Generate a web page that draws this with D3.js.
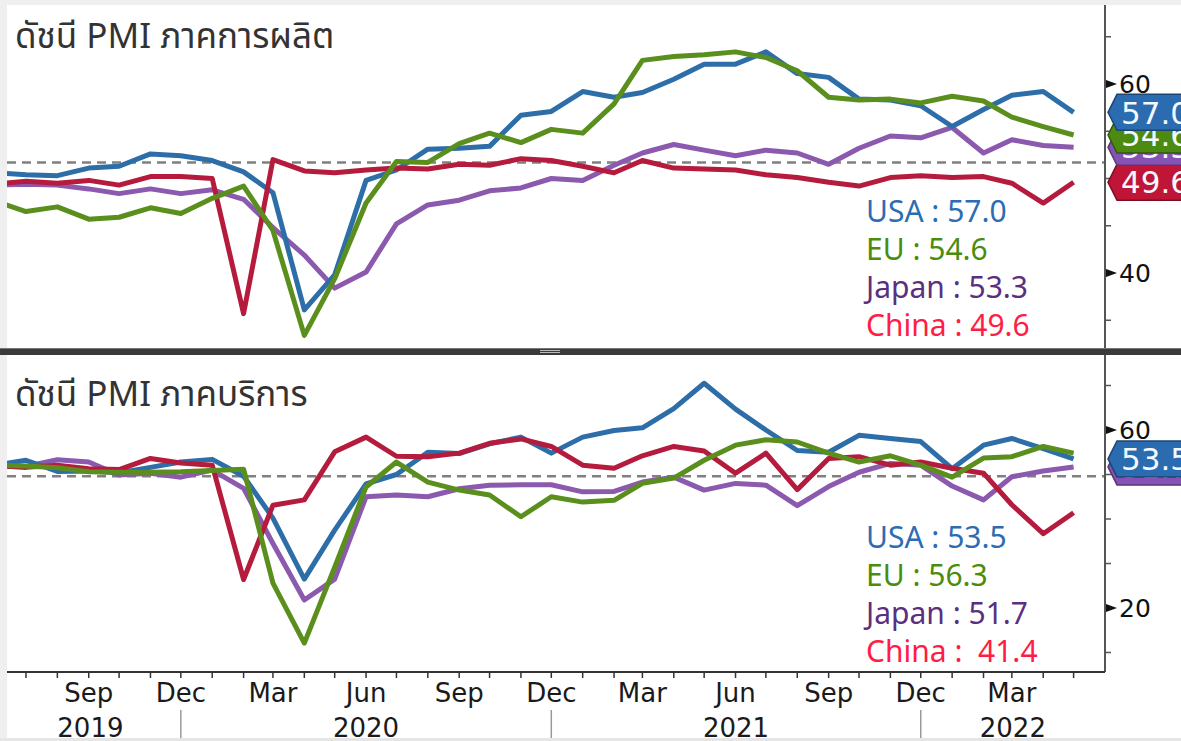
<!DOCTYPE html>
<html lang="th">
<head>
<meta charset="UTF-8">
<title>PMI</title>
<script src="https://d3js.org/d3.v7.min.js"></script>
<style>
    body { margin: 0; background: #efefef; }
    svg { display: block; }
</style>
</head>
<body>
<svg width="1181" height="741"></svg>
<script>

    // month-end readings, Jun 2019 .. May 2022
    var months = ["2019-06", "2019-07", "2019-08", "2019-09", "2019-10", "2019-11", "2019-12",
        "2020-01", "2020-02", "2020-03", "2020-04", "2020-05", "2020-06", "2020-07", "2020-08", "2020-09", "2020-10", "2020-11", "2020-12",
        "2021-01", "2021-02", "2021-03", "2021-04", "2021-05", "2021-06", "2021-07", "2021-08", "2021-09", "2021-10", "2021-11", "2021-12",
        "2022-01", "2022-02", "2022-03", "2022-04", "2022-05"];

    var countries = ["USA", "EU", "Japan", "China"];

    // manufacturing PMI
    var usaMfg = [50.6, 50.4, 50.3, 51.1, 51.3, 52.6, 52.4, 51.9, 50.7, 48.5, 36.1, 39.8, 49.8, 50.9, 53.1, 53.2, 53.4, 56.7, 57.1,
        59.2, 58.6, 59.1, 60.5, 62.1, 62.1, 63.4, 61.1, 60.7, 58.4, 58.3, 57.7, 55.5, 57.3, 58.8, 59.2, 57.0];
    var euMfg = [47.6, 46.5, 47.0, 45.7, 45.9, 46.9, 46.3, 47.9, 49.2, 44.5, 33.4, 39.4, 47.4, 51.8, 51.7, 53.7, 54.8, 53.8, 55.2,
        54.8, 57.9, 62.5, 62.9, 63.1, 63.4, 62.8, 61.4, 58.6, 58.3, 58.4, 58.0, 58.7, 58.2, 56.5, 55.5, 54.6];
    var japanMfg = [49.3, 49.4, 49.3, 48.9, 48.4, 48.9, 48.4, 48.8, 47.8, 44.8, 41.9, 38.4, 40.1, 45.2, 47.2, 47.7, 48.7, 49.0, 50.0,
        49.8, 51.4, 52.7, 53.6, 53.0, 52.4, 53.0, 52.7, 51.5, 53.2, 54.5, 54.3, 55.4, 52.7, 54.1, 53.5, 53.3];
    var chinaMfg = [49.4, 49.7, 49.5, 49.8, 49.3, 50.2, 50.2, 50.0, 35.7, 52.0, 50.8, 50.6, 50.9, 51.1, 51.0, 51.5, 51.4, 52.1, 51.9,
        51.3, 50.6, 51.9, 51.1, 51.0, 50.9, 50.4, 50.1, 49.6, 49.2, 50.1, 50.3, 50.1, 50.2, 49.5, 47.4, 49.6];

    // services PMI
    var usaSvc = [52.1, 53.2, 50.7, 50.8, 50.4, 51.6, 52.8, 53.4, 49.6, 40.2, 26.5, 37.5, 47.9, 50.0, 55.0, 54.7, 56.9, 58.4, 54.8,
        58.4, 59.9, 60.5, 64.8, 70.5, 64.7, 60.0, 55.4, 55.0, 58.8, 58.1, 57.4, 51.3, 56.6, 58.1, 55.8, 53.5];
    var euSvc = [52.1, 51.9, 51.5, 50.6, 50.5, 50.5, 50.6, 50.9, 51.2, 25.6, 12.1, 29.2, 47.2, 52.8, 48.3, 46.5, 45.4, 40.5, 45.0,
        43.8, 44.2, 48.0, 49.2, 53.2, 56.6, 57.8, 57.3, 54.8, 52.8, 54.2, 52.1, 49.4, 53.7, 54.0, 56.3, 54.8];
    var japanSvc = [51.9, 51.8, 53.3, 52.8, 49.9, 50.3, 49.4, 51.0, 46.9, 34.5, 21.8, 26.5, 45.0, 45.4, 45.0, 46.8, 47.6, 47.7, 47.7,
        46.1, 46.2, 48.3, 49.4, 46.5, 48.0, 47.6, 43.0, 47.3, 50.5, 52.5, 52.1, 47.4, 44.3, 49.5, 50.8, 51.7];
    var chinaSvc = [52.0, 51.6, 52.1, 51.3, 51.1, 53.6, 52.6, 52.1, 26.4, 43.1, 44.3, 55.1, 58.4, 54.1, 54.0, 54.8, 57.0, 58.0, 56.3,
        52.1, 51.4, 54.2, 56.3, 55.3, 50.3, 54.8, 46.6, 53.6, 54.0, 52.1, 52.8, 51.4, 50.3, 43.2, 36.7, 41.4];

    var legendTop = ["USA : 57.0", "EU : 54.6", "Japan : 53.3", "China : 49.6"];
    var legendBottom = ["USA : 53.5", "EU : 56.3", "Japan : 51.7", "China :  41.4"];

    var topTicks = [35, 40, 45, 50, 55, 60, 65];
    var topTickLabels = [40, 60];
    var bottomTicks = [10, 20, 30, 40, 50, 60, 70];
    var bottomTickLabels = [20, 60];
    var monthLabels = ["Mar", "Jun", "Sep", "Dec"];

    var lineColor = {USA: "#2d6ea8", EU: "#5b8f1d", Japan: "#8b59ad", China: "#b51b3d"};
    var textColor = {USA: "#2c6cb2", EU: "#4a8c0b", Japan: "#5b2f7d", China: "#ff1d45"};
    var tagColor = {USA: "#2b6bb0", EU: "#4c8a12", Japan: "#8653b4", China: "#bf1637"};

    var parse = d3.utcParse("%Y-%m");
    var dates = months.map(parse);

    var svg = d3.select("svg"),
        axisX = 1105,
        left = 7,
        font = "'Noto Sans Thai', 'Noto Sans', sans-serif",
        axisFont = "'DejaVu Sans', sans-serif";

    svg.append("rect").attr("x", left).attr("y", 5).attr("width", 1181 - left).attr("height", 733).attr("fill", "#fff");

    var x = d3.scaleUtc()
        .domain(d3.extent(dates))
        .range([-4.4, 1073.6]);

    var panels = [
        {
            title: "ดัชนี PMI ภาคการผลิต", titleY: 48, top: 5, bottom: 348,
            y: d3.scaleLinear().domain([40, 60]).range([273, 84]),
            series: {USA: usaMfg, EU: euMfg, Japan: japanMfg, China: chinaMfg},
            ref: 51.7, ticks: topTicks, tickLabels: topTickLabels,
            legend: legendTop, legendY: 222,
            tags: ["China", "Japan", "EU", "USA"]
        },
        {
            title: "ดัชนี PMI ภาคบริการ", titleY: 406, top: 355, bottom: 672,
            y: d3.scaleLinear().domain([20, 60]).range([608, 430]),
            series: {USA: usaSvc, EU: euSvc, Japan: japanSvc, China: chinaSvc},
            ref: 49.6, ticks: bottomTicks, tickLabels: bottomTickLabels,
            legend: legendBottom, legendY: 548,
            tags: ["Japan", "USA"]
        }
    ];

    var drawOrder = ["Japan", "USA", "China", "EU"];

    panels.forEach(function (p, i) {
        var g = svg.append("g");

        svg.append("clipPath").attr("id", "clip" + i)
            .append("rect")
            .attr("x", left).attr("y", p.top)
            .attr("width", axisX - left).attr("height", p.bottom - p.top);

        g.append("text")
            .attr("x", 15).attr("y", p.titleY)
            .attr("font-family", font).attr("font-size", 35)
            .attr("fill", "#333")
            .text(p.title);

        var plot = g.append("g").attr("clip-path", "url(#clip" + i + ")");

        plot.append("line")
            .attr("x1", left).attr("x2", axisX)
            .attr("y1", p.y(p.ref)).attr("y2", p.y(p.ref))
            .attr("stroke", "#808080").attr("stroke-width", 2.5)
            .attr("stroke-dasharray", "9,6");

        var line = d3.line()
            .x(function (d, j) { return x(dates[j]); })
            .y(function (d) { return p.y(d); });

        drawOrder.forEach(function (c) {
            plot.append("path")
                .datum(p.series[c])
                .attr("d", line)
                .attr("fill", "none")
                .attr("stroke", lineColor[c])
                .attr("stroke-width", 5)
                .attr("stroke-linejoin", "round");
        });

        // legend
        g.selectAll(".legend")
            .data(p.legend)
            .enter().append("text")
            .attr("x", 866)
            .attr("y", function (d, j) { return p.legendY + j * 38; })
            .attr("font-family", font).attr("font-size", 30)
            .attr("fill", function (d, j) { return textColor[countries[j]]; })
            .style("white-space", "pre")
            .text(function (d) { return d; });

        // right axis
        var axis = g.append("g").attr("transform", "translate(" + axisX + ",0)");
        axis.selectAll(".tick")
            .data(p.ticks)
            .enter().append("line")
            .attr("x1", 0).attr("x2", 6)
            .attr("y1", function (d) { return p.y(d); })
            .attr("y2", function (d) { return p.y(d); })
            .attr("stroke", "#555").attr("stroke-width", 1.5);
        axis.selectAll(".wedge")
            .data(p.tickLabels)
            .enter().append("path")
            .attr("d", function (d) {
                var yy = p.y(d);
                return "M1," + (yy - 4) + "L12," + yy + "L1," + (yy + 4) + "Z";
            })
            .attr("fill", "#111");
        axis.selectAll(".lab")
            .data(p.tickLabels)
            .enter().append("text")
            .attr("x", 14)
            .attr("y", function (d) { return p.y(d); })
            .attr("dy", "0.36em")
            .attr("font-family", axisFont).attr("font-size", 25)
            .attr("fill", "#111")
            .text(function (d) { return d; });

        // value tags on the axis
        p.tags.forEach(function (c) {
            var v = p.series[c][p.series[c].length - 1];
            var yy = p.y(v);
            var tg = axis.append("g");
            tg.append("path")
                .attr("d", "M3," + yy + "L12," + (yy - 18) + "L90," + (yy - 18) + "L90," + (yy + 18) + "L12," + (yy + 18) + "Z")
                .attr("fill", tagColor[c])
                .attr("stroke", d3.color(tagColor[c]).darker(1.2))
                .attr("stroke-width", 1.5);
            tg.append("text")
                .attr("x", 16).attr("y", yy).attr("dy", "0.36em")
                .attr("font-family", axisFont).attr("font-size", 31)
                .attr("fill", "#f4f8ff")
                .text(v.toFixed(1));
        });
    });

    // right axis spine
    svg.append("line")
        .attr("x1", axisX).attr("x2", axisX)
        .attr("y1", 5).attr("y2", 672)
        .attr("stroke", "#555").attr("stroke-width", 2);

    // x axis
    var xAxis = svg.append("g").attr("transform", "translate(0,672)");
    xAxis.append("line")
        .attr("x1", left).attr("x2", axisX)
        .attr("stroke", "#333").attr("stroke-width", 2);
    xAxis.selectAll(".mtick")
        .data(dates.filter(function (d) { return x(d) > left; }))
        .enter().append("line")
        .attr("x1", function (d) { return x(d); })
        .attr("x2", function (d) { return x(d); })
        .attr("y1", 0).attr("y2", 6)
        .attr("stroke", "#333").attr("stroke-width", 1.5);

    var fmt = d3.utcFormat("%b");
    xAxis.selectAll(".mlab")
        .data(dates.filter(function (d) { return monthLabels.indexOf(fmt(d)) >= 0 && x(d) > left; }))
        .enter().append("text")
        .attr("x", function (d) { return x(d); })
        .attr("y", 30)
        .attr("text-anchor", "middle")
        .attr("font-family", axisFont).attr("font-size", 26)
        .attr("fill", "#1a1a1a")
        .text(fmt);

    // years split at the December points
    var decs = dates.filter(function (d) { return d.getUTCMonth() === 11; });
    xAxis.selectAll(".ysep")
        .data(decs)
        .enter().append("line")
        .attr("x1", function (d) { return x(d); })
        .attr("x2", function (d) { return x(d); })
        .attr("y1", 38).attr("y2", 69)
        .attr("stroke", "#999").attr("stroke-width", 1.5);

    var bounds = [0].concat(decs.map(x)).concat([axisX]);
    var years = d3.range(bounds.length - 1).map(function (j) {
        return {year: 2019 + j, cx: (bounds[j] + bounds[j + 1]) / 2};
    });
    xAxis.selectAll(".ylab")
        .data(years)
        .enter().append("text")
        .attr("x", function (d) { return d.cx; })
        .attr("y", 65)
        .attr("text-anchor", "middle")
        .attr("font-family", axisFont).attr("font-size", 26)
        .attr("fill", "#1a1a1a")
        .text(function (d) { return d.year; });

    // splitter bar between the panels
    svg.append("rect").attr("x", 0).attr("y", 348).attr("width", 1181).attr("height", 7).attr("fill", "#3a3a3a");
    svg.append("line").attr("x1", 0).attr("x2", 1181).attr("y1", 348.5).attr("y2", 348.5).attr("stroke", "#777");
    [350.5, 352.5].forEach(function (yy) {
        svg.append("line").attr("x1", 540).attr("x2", 560).attr("y1", yy).attr("y2", yy).attr("stroke", "#bbb");
    });

    svg.append("rect").attr("x", 0).attr("y", 738).attr("width", 1181).attr("height", 3).attr("fill", "#e6e6e6");

</script>
</body>
</html>
